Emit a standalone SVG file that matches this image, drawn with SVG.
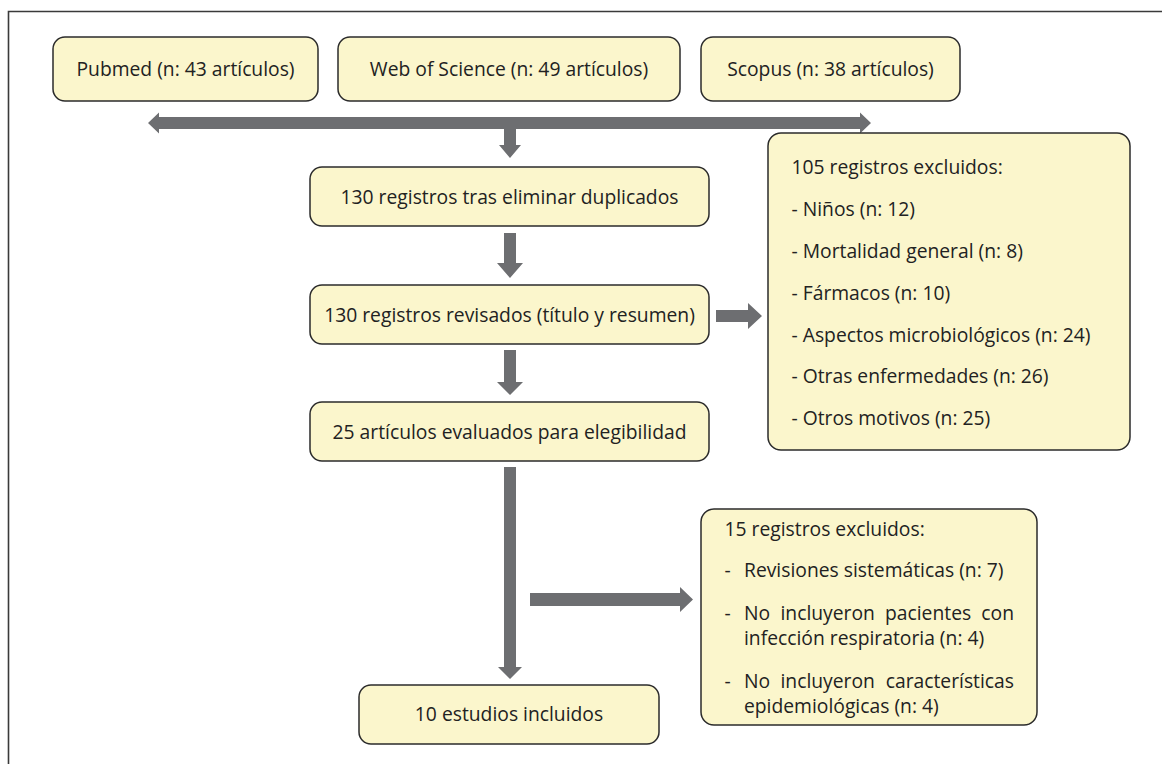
<svg xmlns="http://www.w3.org/2000/svg" width="1162" height="764" viewBox="0 0 1162 764">
<style>
.box{fill:#fbf6cc;stroke:#2b2b2b;stroke-width:1.5}
.t{font-family:"Open Sans","Noto Sans",sans-serif;font-size:19.3px;fill:#222}
.c{text-anchor:middle}
.e{text-anchor:end}
.arr{fill:#6d6e71}
</style>
<rect width="1162" height="764" fill="#fff"/>
<path d="M8.5 764V11.5H1162" fill="none" stroke="#3a3a3a" stroke-width="1.6"/>
<g id="connectors">
<polygon class="arr" points="148,123 159,112.5 159,117 860,117 860,112.5 871,123 860,133.5 860,129 159,129 159,133.5"/>
<polygon class="arr" points="504,129 516,129 516,145 521,145 510,158 499,145 504,145"/>
<polygon class="arr" points="504,233 516,233 516,263 523,263 510,278 497,263 504,263"/>
<polygon class="arr" points="504,350 516,350 516,382 523,382 510,395 497,382 504,382"/>
<polygon class="arr" points="716,310 748,310 748,303 762,316 748,329 748,322 716,322"/>
<polygon class="arr" points="504,467 516,467 516,667 522,667 510,679 498,667 504,667"/>
<polygon class="arr" points="530,593 680,593 680,587 693,599.5 680,612 680,606 530,606"/>
</g>
<g id="pubmed"><rect class="box" x="53" y="37" width="265" height="64" rx="12"/><text class="t c" x="185.5" y="76">Pubmed (n: 43 artículos)</text></g>
<g id="wos"><rect class="box" x="338" y="37" width="342" height="64" rx="12"/><text class="t c" x="509" y="76">Web of Science (n: 49 artículos)</text></g>
<g id="scopus"><rect class="box" x="701" y="37" width="259" height="64" rx="12"/><text class="t c" x="830.5" y="76">Scopus (n: 38 artículos)</text></g>
<g id="dedup"><rect class="box" x="310" y="167" width="399" height="59" rx="12"/><text class="t c" x="509.5" y="203.5">130 registros tras eliminar duplicados</text></g>
<g id="screened"><rect class="box" x="310" y="285" width="399" height="59" rx="12"/><text class="t c" x="509.5" y="321.5">130 registros revisados (título y resumen)</text></g>
<g id="eligible"><rect class="box" x="310" y="402" width="399" height="59" rx="12"/><text class="t c" x="509.5" y="438.5">25 artículos evaluados para elegibilidad</text></g>
<g id="included"><rect class="box" x="359" y="685" width="300" height="59" rx="12"/><text class="t c" x="509" y="721">10 estudios incluidos</text></g>
<g id="excluded1"><rect class="box" x="768" y="133" width="362" height="317" rx="13"/>
<text class="t" x="791.5" y="174">105 registros excluidos:</text>
<text class="t" x="791.5" y="216">- Niños (n: 12)</text>
<text class="t" x="791.5" y="258">- Mortalidad general (n: 8)</text>
<text class="t" x="791.5" y="300">- Fármacos (n: 10)</text>
<text class="t" x="791.5" y="341.5">- Aspectos microbiológicos (n: 24)</text>
<text class="t" x="791.5" y="383">- Otras enfermedades (n: 26)</text>
<text class="t" x="791.5" y="425">- Otros motivos (n: 25)</text>
</g>
<g id="excluded2"><rect class="box" x="701" y="509" width="336" height="216" rx="13"/>
<text class="t" x="724.5" y="536">15 registros excluidos:</text>
<text class="t" x="724.5" y="577">-</text><text class="t" x="744" y="577">Revisiones sistemáticas (n: 7)</text>
<text class="t" x="724.5" y="620">-</text><text class="t" y="620"><tspan x="744">No</tspan><tspan x="780.5">incluyeron</tspan><tspan x="885">pacientes</tspan></text><text class="t e" x="1014" y="620">con</text>
<text class="t" x="744" y="645">infección respiratoria (n: 4)</text>
<text class="t" x="724.5" y="688">-</text><text class="t" y="688"><tspan x="744">No</tspan><tspan x="780.5">incluyeron</tspan></text><text class="t e" x="1014" y="688">características</text>
<text class="t" x="744" y="713">epidemiológicas (n: 4)</text>
</g>
</svg>
